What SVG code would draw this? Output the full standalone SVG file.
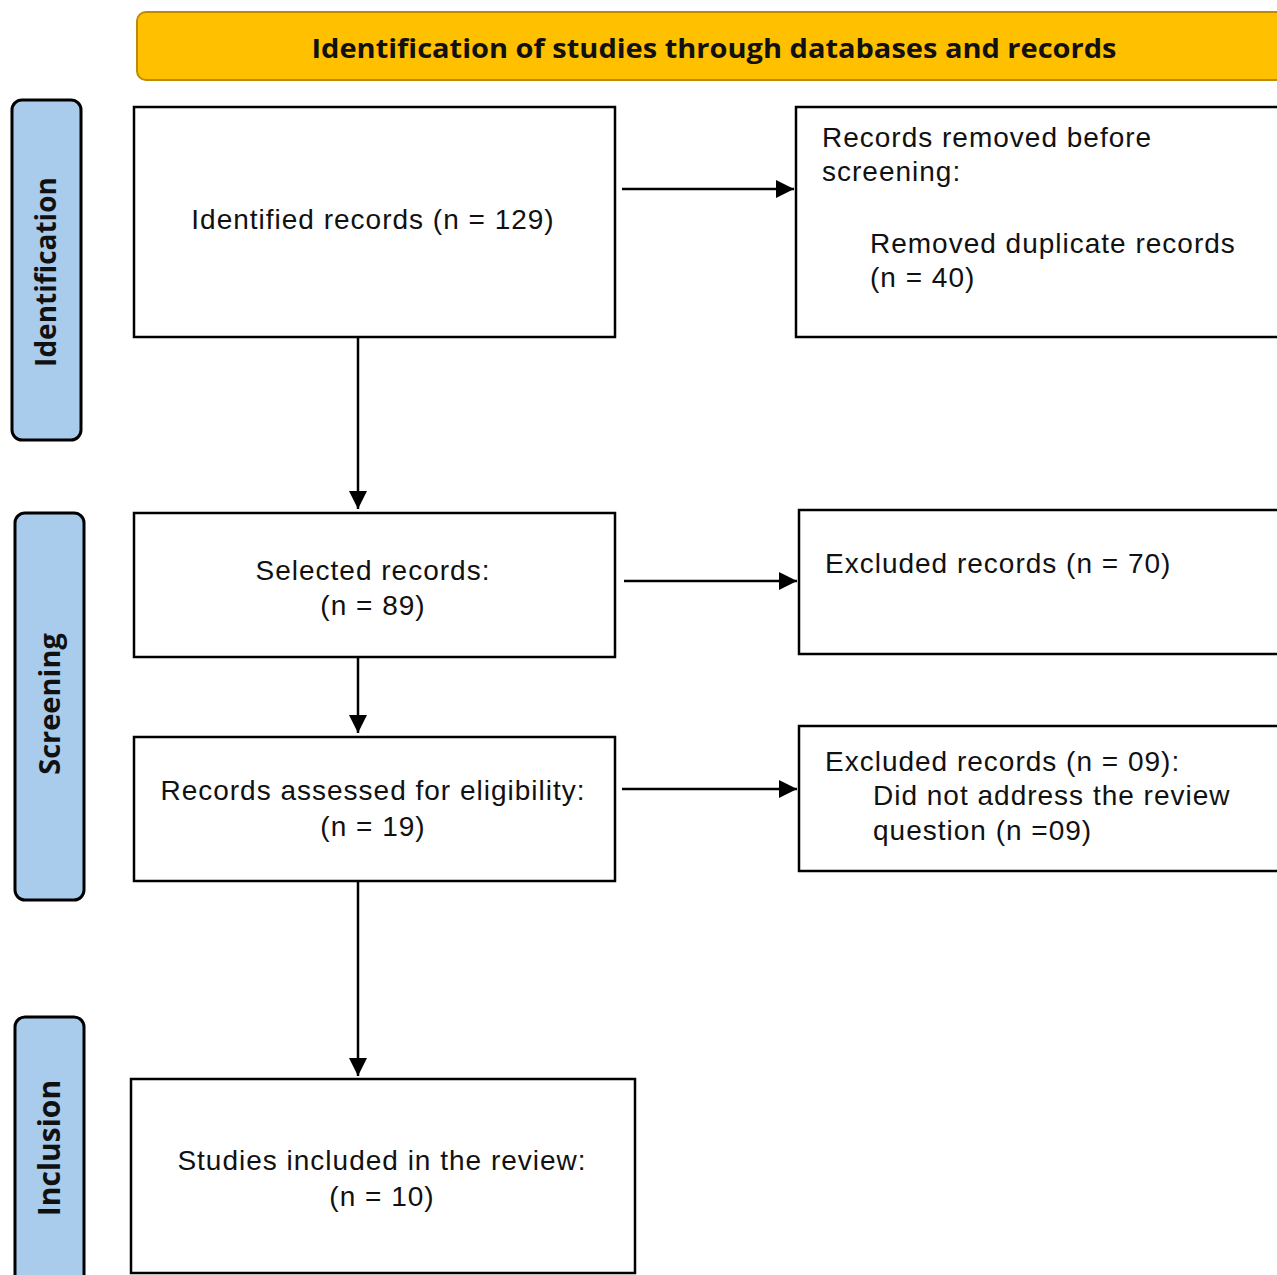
<svg xmlns="http://www.w3.org/2000/svg" width="1277" height="1275" viewBox="0 0 1277 1275">
<defs>
<style>
.box{fill:#fff;stroke:#000;stroke-width:2.5}
.side{fill:#a9cbec;stroke:#000;stroke-width:3}
.hdr{fill:#ffc000;stroke:#c08a00;stroke-width:2}
.t{font-family:"Liberation Sans",Arial,sans-serif;font-size:28px;letter-spacing:1px;fill:#111}
.c{text-anchor:middle}
.b{font-family:"Open Sans","DejaVu Sans",sans-serif;font-weight:bold;fill:#111}
.conn line{stroke:#000;stroke-width:2.5}
</style>
<marker id="a" markerWidth="18" markerHeight="18" refX="18" refY="9" orient="auto" markerUnits="userSpaceOnUse">
<path d="M0,0 L18,9 L0,18 z" fill="#000"/>
</marker>
</defs>
<rect width="1277" height="1275" fill="#fff"/>

<g id="header">
<rect class="hdr" x="137" y="12" width="1160" height="68" rx="9"/>
<text class="b" x="714" y="58" font-size="27" text-anchor="middle" textLength="805" lengthAdjust="spacingAndGlyphs">Identification of studies through databases and records</text>
</g>

<g id="side-identification">
<rect class="side" x="12" y="100" width="69" height="340" rx="10"/>
<text class="b" font-size="28" text-anchor="middle" transform="translate(56,272) rotate(-90)">Identification</text>
</g>
<g id="side-screening">
<rect class="side" x="15" y="513" width="69" height="387" rx="10"/>
<text class="b" font-size="29" text-anchor="middle" transform="translate(60,704) rotate(-90)">Screening</text>
</g>
<g id="side-inclusion">
<rect class="side" x="15" y="1017" width="69" height="280" rx="10"/>
<text class="b" font-size="30" text-anchor="middle" transform="translate(60,1148) rotate(-90)">Inclusion</text>
</g>

<g id="identified">
<rect class="box" x="134" y="107" width="481" height="230"/>
<text class="t c" x="373" y="229">Identified records (n = 129)</text>
</g>
<g id="removed">
<rect class="box" x="796" y="107" width="500" height="230"/>
<text class="t" x="822" y="147">Records removed before</text>
<text class="t" x="822" y="181">screening:</text>
<text class="t" x="870" y="253">Removed duplicate records</text>
<text class="t" x="870" y="287">(n = 40)</text>
</g>
<g id="selected">
<rect class="box" x="134" y="513" width="481" height="144"/>
<text class="t c" x="373" y="580">Selected records:</text>
<text class="t c" x="373" y="615">(n = 89)</text>
</g>
<g id="excluded70">
<rect class="box" x="799" y="510" width="500" height="144"/>
<text class="t" x="825" y="573">Excluded records (n = 70)</text>
</g>
<g id="assessed">
<rect class="box" x="134" y="737" width="481" height="144"/>
<text class="t c" x="373" y="800">Records assessed for eligibility:</text>
<text class="t c" x="373" y="836">(n = 19)</text>
</g>
<g id="excluded09">
<rect class="box" x="799" y="726" width="500" height="145"/>
<text class="t" x="825" y="771">Excluded records (n = 09):</text>
<text class="t" x="873" y="805">Did not address the review</text>
<text class="t" x="873" y="840">question (n =09)</text>
</g>
<g id="included">
<rect class="box" x="131" y="1079" width="504" height="194"/>
<text class="t c" x="382" y="1170">Studies included in the review:</text>
<text class="t c" x="382" y="1206">(n = 10)</text>
</g>

<g id="connectors" class="conn">
<line x1="622" y1="189" x2="794" y2="189" marker-end="url(#a)"/>
<line x1="358" y1="337" x2="358" y2="509" marker-end="url(#a)"/>
<line x1="624" y1="581" x2="797" y2="581" marker-end="url(#a)"/>
<line x1="358" y1="657" x2="358" y2="733" marker-end="url(#a)"/>
<line x1="622" y1="789" x2="797" y2="789" marker-end="url(#a)"/>
<line x1="358" y1="881" x2="358" y2="1076" marker-end="url(#a)"/>
</g>
</svg>
